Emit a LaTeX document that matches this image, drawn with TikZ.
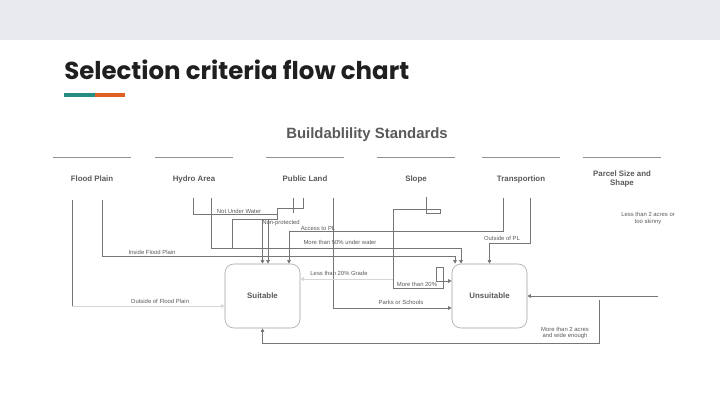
\documentclass[tikz,border=0pt]{standalone}
\usepackage{fontspec}
\setmainfont{Liberation Sans}
\newfontfamily\titlefont{Poppins}
\usetikzlibrary{arrows.meta, positioning, calc}
\definecolor{topbar}{RGB}{232,234,237}
\definecolor{accteal}{RGB}{38,140,132}
\definecolor{accorange}{RGB}{224,96,31}
\definecolor{linegray}{RGB}{118,118,118}
\definecolor{textgray}{RGB}{90,90,90}
\tikzset{
  header/.style={minimum width=1.95cm, minimum height=1.05cm, inner sep=0pt,
    align=center, text=textgray, font=\bfseries\fontsize{5.6}{6.6}\selectfont},
  result/.style={draw=linegray!70, rounded corners=0.22cm,
    minimum width=1.875cm, minimum height=1.6cm, text=textgray,
    font=\bfseries\fontsize{5.6}{6}\selectfont},
  link/.style={draw=linegray, line width=0.5pt, -{Triangle[length=2.6pt,width=2.6pt]}},
  faint/.style={link, draw=linegray!30},
  lbl/.style={font=\fontsize{4.2}{4.9}\selectfont, text=textgray, inner sep=0pt, align=center},
}

\begin{document}
\begin{tikzpicture}[x=0.025cm, y=-0.025cm]

    % page and title
    \useasboundingbox (0,0) rectangle (720,405);
    \fill[white] (0,0) rectangle (720,405);
    \fill[topbar] (0,0) rectangle (720,40);
    \node (title) [anchor=base west, inner sep=0pt, text=black!88,
      font=\titlefont\bfseries\fontsize{17.4}{20}\selectfont] at (64,80) {Selection criteria flow chart};
    \fill[accteal] (64,93) rectangle (95,97);
    \fill[accorange] (95,93) rectangle (125,97);
    \node (std) [text=textgray, font=\bfseries\fontsize{10.6}{12}\selectfont] at (367,135) {Buildablility Standards};

    % criteria
    \node (flood) [header] at (92,179) {Flood Plain};
    \node (hydro) [header] at (194,179) {Hydro Area};
    \node (public) [header] at (305,179) {Public Land};
    \node (slope) [header] at (416,179) {Slope};
    \node (transp) [header] at (521,179) {Transportion};
    \node (parcel) [header] at (622,179) {Parcel Size and\\Shape};
    \foreach \h in {flood,hydro,public,slope,transp,parcel}
      \draw[linegray!80, line width=0.6pt] (\h.north west) -- (\h.north east);

    % results
    \node (suit) [result] at (262.5,296) {Suitable};
    \node (unsuit) [result] at (489.5,296) {Unsuitable};

    % start points under the criteria
    \coordinate (fpOut) at (72,200);
    \coordinate (fpIn) at (102,200);
    \coordinate (hyDry) at (193,198);
    \coordinate (hyWet) at (211,198);
    \coordinate (plOpen) at (303,198);
    \coordinate (plPark) at (333,198);
    \coordinate (slTop) at (426,197);
    \coordinate (slSplit) at (393,279);
    \coordinate (trIn) at (503,198);
    \coordinate (trOut) at (530,198);
    \coordinate (paSmall) at (658,296);
    \coordinate (paBig) at (599,300);

    % connectors
    \draw [link] (hyDry) -- (193,214) -- (277,214) -- (277,219) -| (suit.north);
    \draw [link] (plOpen) -- (303,208) -- (277,208) -- (277,219) -| ($(suit.north)+(5.5,0)$);
    \draw [linegray, line width=0.5pt] (277,219) -- (232,219) -- (232,248);
    \draw [linegray, line width=0.5pt] (293,198) -- (293,213);
    \draw [link] (trIn) -- (503,231) -| ($(suit.north)+(26.5,0)$);
    \draw [link] (hyWet) -- (211,248) -| ($(unsuit.north)+(-28.5,0)$);
    \draw [link] (fpIn) -- (102,256) -| ($(unsuit.north)+(-34.5,0)$);
    \draw [link] (trOut) -- (530,243) -| (unsuit.north);
    \draw [linegray, line width=0.5pt] (fpOut) -- (72,306);
    \draw [faint] (72,306) -- ($(suit.west)+(0,10)$);
    \draw [link] (plPark) |- ($(unsuit.west)+(0,12)$);
    \draw [link] (slTop) -- (426,213) -- (440,213) -- (440,209) -- (393,209) -- (393,288)
      -- (443,288) -- (443,267) -- (436,267) -- (436,281) -- ($(unsuit.west)+(0,-15)$);
    \draw [faint] (slSplit) -- ($(suit.east)+(0,-17)$);
    \draw [link] (paSmall) -- (unsuit.east);
    \draw [link] (paBig) -- (599,343) -| (suit.south);

    % labels
    \node (l1) [lbl] at (239,211) {Not Under Water};
    \node (l2) [lbl] at (281,223) {Non-protected};
    \node (l3) [lbl] at (318,228) {Access to PL};
    \node (l4) [lbl] at (340,242) {More than 50\% under water};
    \node (l5) [lbl] at (152,252) {Inside Flood Plain};
    \node (l6) [lbl] at (502,238) {Outside of PL};
    \node (l7) [lbl] at (648,218.5) {Less than 2 acres or\\too skinny};
    \node (l8) [lbl] at (339,273) {Less than 20\% Grade};
    \node (l9) [lbl] at (417,284) {More than 20\%};
    \node (l10) [lbl] at (160,301) {Outside of Flood Plain};
    \node (l11) [lbl] at (401,302) {Parks or Schools};
    \node (l12) [lbl] at (565,333) {More than 2 acres\\and wide enough};

\end{tikzpicture}
\end{document}
